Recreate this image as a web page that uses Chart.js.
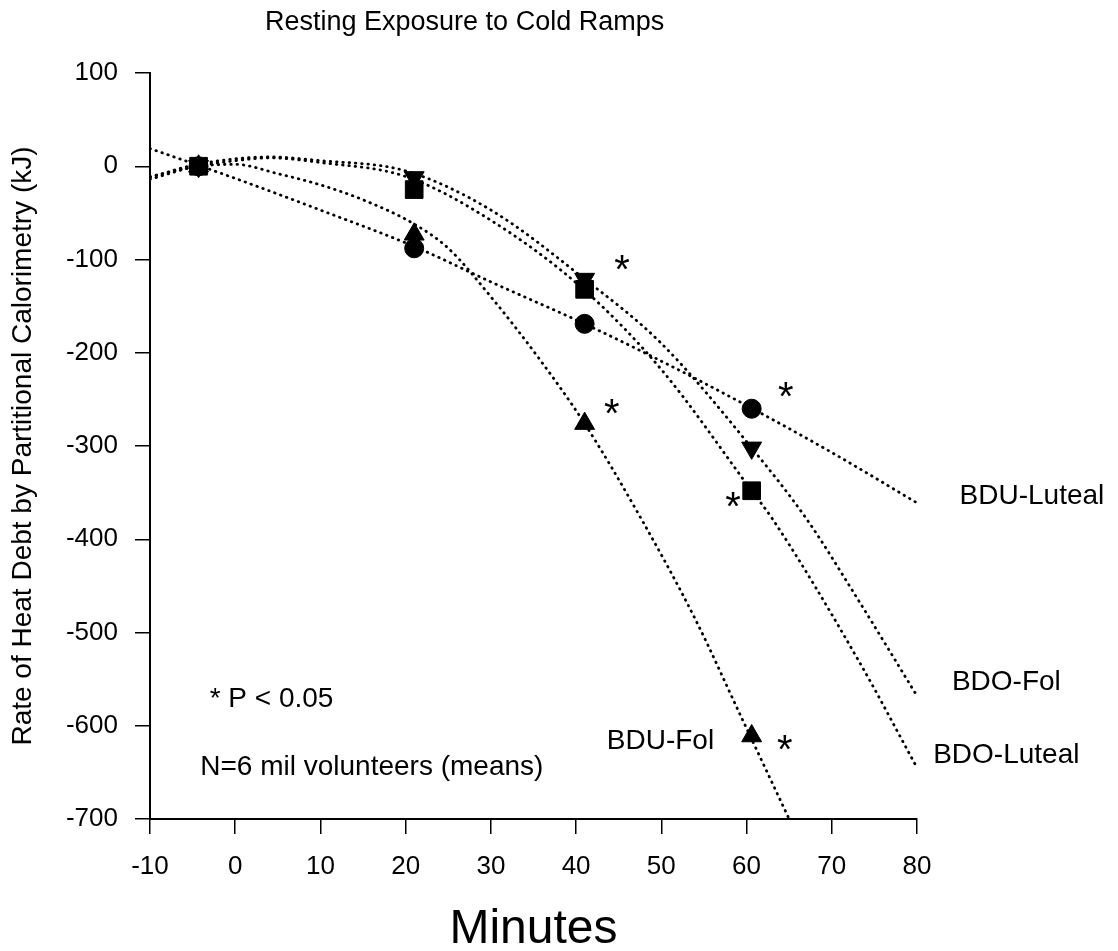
<!DOCTYPE html>
<html>
<head>
<meta charset="utf-8">
<title>Resting Exposure to Cold Ramps</title>
<script src="https://cdn.jsdelivr.net/npm/chart.js@4/dist/chart.umd.min.js"></script>
<style>
  html, body { margin: 0; padding: 0; background: #fff; }
  #wrap { width: 1118px; height: 951px; }
</style>
</head>
<body>
<div id="wrap"><canvas id="heatChart" width="1118" height="951"></canvas></div>
<script>
// measured group means (minutes of exposure)
const markerMinutes = [-4.3, 21, 41, 60.6];
const bduLutealMeans = [0, -88, -169, -260];
const bduFolMeans = [0, -73, -276, -611];
const bdoFolMeans = [0, -12, -121, -302];
const bdoLutealMeans = [0, -25, -132, -348];

// dotted fit curves
const bduLutealFitX = [-10, 0, 10, 21, 30, 41, 50, 60.7, 70, 80];
const bduLutealFitY = [19, -13, -47, -86, -124, -169, -209, -260, -307, -361];
const bduFolFitX = [-10, -4.3, 0, 5, 10, 15, 21, 25, 30, 35.8, 41, 47.7, 54, 59.5, 65];
const bduFolFitY = [-11, 0, 2, -8, -20, -36, -62, -88, -140, -208, -276, -379, -486, -593, -700];
const bdoFolFitX = [-10, -5, 0, 4, 10, 20, 30, 41, 50, 60.6, 67.1, 73.1, 80];
const bdoFolFitY = [-12, 1, 8, 10, 6, -5, -47, -121, -190, -302, -379, -465, -568];
const bdoLutealFitX = [-10, -5, 0, 4, 10, 20, 30, 41, 50, 60.6, 63.1, 73.2, 80];
const bdoLutealFitY = [-14, -1, 6, 9, 4, -11, -58, -133, -218, -348, -379, -531, -645];

const seriesNames = ['BDU-Luteal', 'BDO-Fol', 'BDO-Luteal', 'BDU-Fol'];
const xTickRange = [-10, 80];
const yTickRange = [-700, 100];

const FONT = '"Liberation Sans", Arial, Helvetica, sans-serif';

function zip(xs, ys) {
    return xs.map((x, i) => ({ x: x, y: ys[i] }));
}

// text placed in data units so it follows the scales
const seriesLabelPos = [[85, -354], [84.1, -553], [81.9, -632], [43.6, -617]];
const starPos = [[45.4, -103], [64.6, -239], [44.2, -258], [58.4, -357], [64.5, -618]];
const notes = [
    { text: '* P < 0.05', x: -3, y: -572 },
    { text: 'N=6 mil volunteers (means)', x: -4.1, y: -645 },
];

const annotationPlugin = {
    id: 'annotations',
    afterDraw(chart) {
        const { ctx, scales: { x, y }, chartArea } = chart;
        ctx.save();
        ctx.fillStyle = '#000';

        // chart title
        ctx.font = '27px ' + FONT;
        ctx.textAlign = 'left';
        ctx.textBaseline = 'middle';
        ctx.fillText('Resting Exposure to Cold Ramps', chartArea.left + 115, 23);

        ctx.font = '28px ' + FONT;
        seriesNames.forEach((name, i) => {
            const [vx, vy] = seriesLabelPos[i];
            ctx.fillText(name, x.getPixelForValue(vx), y.getPixelForValue(vy));
        });
        notes.forEach((n) => {
            ctx.fillText(n.text, x.getPixelForValue(n.x), y.getPixelForValue(n.y));
        });

        // significance stars, centred on their glyph box
        ctx.font = '40px ' + FONT;
        ctx.textAlign = 'center';
        ctx.textBaseline = 'alphabetic';
        const m = ctx.measureText('*');
        const shift = (m.actualBoundingBoxAscent - m.actualBoundingBoxDescent) / 2;
        starPos.forEach(([vx, vy]) => {
            ctx.fillText('*', x.getPixelForValue(vx), y.getPixelForValue(vy) + shift);
        });
        ctx.restore();
    },
};

function fitLine(label, xs, ys) {
    return {
        label: label,
        data: zip(xs, ys),
        showLine: true,
        pointRadius: 0,
        borderColor: '#000',
        borderWidth: 2.8,
        borderDash: [0.5, 5.8],
        borderCapStyle: 'round',
        cubicInterpolationMode: 'monotone',
        order: 1,
    };
}

function markers(label, ys, style, radius, rotation) {
    return {
        label: label,
        data: zip(markerMinutes, ys),
        showLine: false,
        pointStyle: style,
        pointRadius: radius,
        pointRotation: rotation || 0,
        backgroundColor: '#000',
        borderColor: '#000',
        borderWidth: 1,
        order: 0,
    };
}

new Chart(document.getElementById('heatChart'), {
    type: 'scatter',
    data: {
        datasets: [
            markers('BDU-Luteal', bduLutealMeans, 'circle', 9.5),
            markers('BDU-Fol', bduFolMeans, 'triangle', 11.5),
            markers('BDO-Fol', bdoFolMeans, 'triangle', 11.5, 180),
            markers('BDO-Luteal', bdoLutealMeans, 'rect', 12.5),
            fitLine('BDU-Luteal fit', bduLutealFitX, bduLutealFitY),
            fitLine('BDU-Fol fit', bduFolFitX, bduFolFitY),
            fitLine('BDO-Fol fit', bdoFolFitX, bdoFolFitY),
            fitLine('BDO-Luteal fit', bdoLutealFitX, bdoLutealFitY),
        ],
    },
    options: {
        responsive: false,
        animation: false,
        layout: { padding: { left: 0, top: 73, right: 201, bottom: 0 } },
        plugins: {
            legend: { display: false },
            tooltip: { enabled: false },
            title: { display: false },
        },
        scales: {
            x: {
                type: 'linear',
                min: xTickRange[0],
                max: xTickRange[1],
                ticks: {
                    stepSize: 10,
                    color: '#000',
                    padding: 17,
                    font: { family: FONT, size: 26 },
                },
                grid: { drawOnChartArea: false, color: '#000', lineWidth: 1.5, tickLength: 15 },
                border: { display: true, color: '#000', width: 2 },
                title: {
                    display: true,
                    text: 'Minutes',
                    color: '#000',
                    padding: 0,
                    font: { family: FONT, size: 48, lineHeight: 0.875 },
                },
                afterFit(scale) {
                    scale.height = 132;
                    scale.paddingLeft = 0;
                    scale.paddingRight = 0;
                },
            },
            y: {
                type: 'linear',
                min: yTickRange[0],
                max: yTickRange[1],
                ticks: {
                    stepSize: 100,
                    color: '#000',
                    padding: 17,
                    font: { family: FONT, size: 26 },
                },
                grid: { drawOnChartArea: false, color: '#000', lineWidth: 1.5, tickLength: 15 },
                border: { display: true, color: '#000', width: 2 },
                title: {
                    display: true,
                    text: 'Rate of Heat Debt by Partitional Calorimetry (kJ)',
                    color: '#000',
                    padding: { top: 6, bottom: 0 },
                    font: { family: FONT, size: 28 },
                },
                afterFit(scale) {
                    scale.width = 150;
                    scale.paddingTop = 0;
                    scale.paddingBottom = 0;
                },
            },
        },
    },
    plugins: [annotationPlugin],
});
</script>
</body>
</html>
